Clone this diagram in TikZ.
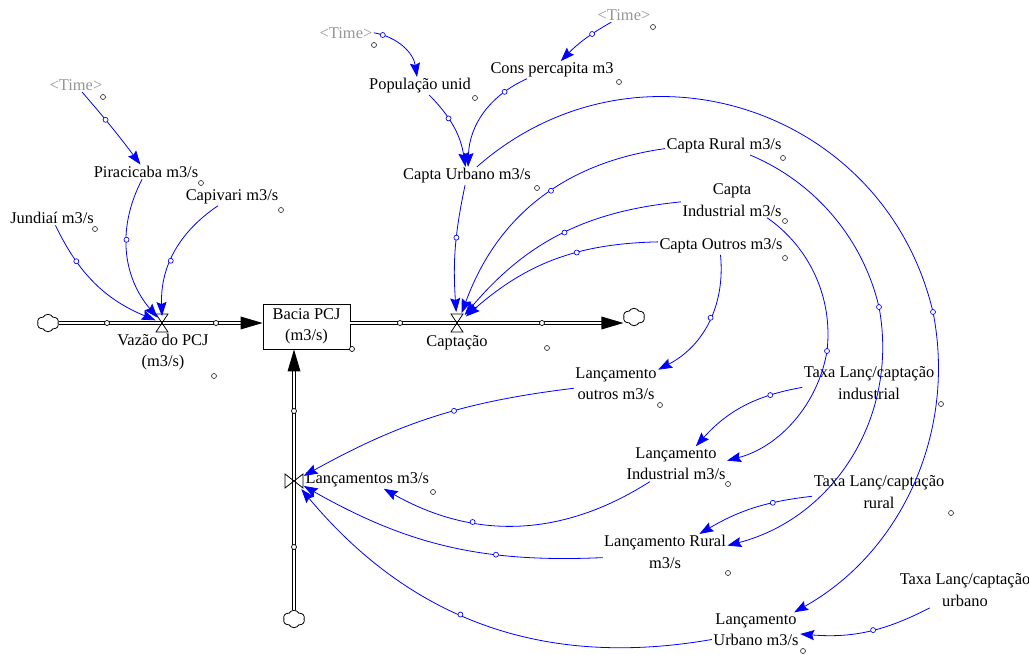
\documentclass[tikz,border=0pt]{standalone}
\usepackage{fontspec}
\setmainfont{Liberation Serif}
\usetikzlibrary{arrows.meta,shapes.geometric,shapes.symbols}
\definecolor{vblue}{RGB}{0,0,255}
\definecolor{tgray}{RGB}{150,150,150}
\begin{document}
\begin{tikzpicture}[x=0.75pt,y=0.75pt,
 var/.style={font=\fontsize{12.3}{16}\selectfont, align=center, inner sep=1pt},
 tvar/.style={var, text=tgray},
 stockbox/.style={var, draw, line width=0.6pt, minimum width=65.25pt, minimum height=33.75pt},
 vnode/.style={circle, inner sep=0pt},
 cloudn/.style={cloud, cloud puffs=6, cloud puff arc=120, aspect=1.25, draw, fill=white, inner sep=0pt, minimum width=16pt, minimum height=13pt, line width=0.6pt},
 pipe/.style={draw, double, double distance=2pt, line width=0.7pt},
 valve/.style={draw, line width=0.6pt},
 link/.style={draw=vblue, line width=0.6pt, -{Stealth[length=10.5pt,width=7.5pt,inset=1.5pt]}},
 hnd/.style={circle, draw=vblue, fill=white, line width=0.5pt, inner sep=0pt, minimum size=3.75pt},
 lh/.style={circle, draw=black!80, fill=white, line width=0.5pt, inner sep=0pt, minimum size=3.75pt},
 ph/.style={circle, draw=black, fill=white, line width=0.5pt, inner sep=0pt, minimum size=3.75pt}
]
\fill[white] (0,0) rectangle (1029,-655);
\useasboundingbox (0,0) rectangle (1029,-655);

% valves, clouds, stock
\node[vnode, minimum size=10pt] (v1) at (162,-323) {};
\node[vnode, minimum size=16pt] (v2) at (457,-323) {};
\node[vnode, minimum size=16pt] (v3) at (294,-481) {};
\node[stockbox] (stock) at (306.5,-326.5) {Bacia PCJ\\(m3/s)};
\node[cloudn] (c1) at (48,-323) {};
\node[cloudn] (c2) at (634,-317) {};
\node[cloudn] (c3) at (294,-619) {};

% pipes
\draw[pipe, shorten >=8pt] (c1.east |- v1) -- (stock.west |- v1);
\fill (stock.west |- v1) -- ++(-22,6.5) -- ++(0,-13) -- cycle;
\draw[pipe, shorten >=8pt] (stock.east |- v2) -- (c2.west |- v2);
\fill (c2.west |- v2) -- ++(-22,6.5) -- ++(0,-13) -- cycle;
\draw[pipe, shorten >=8pt] (c3.north) -- (c3.north |- stock.south);
\fill (c3.north |- stock.south) -- ++(-6.5,-22) -- ++(13,0) -- cycle;

\draw[valve, shift={(v1)}] (-6,9) -- (6,9) -- (-6,-9) -- (6,-9) -- cycle;
\draw[valve, shift={(v2)}] (-6,9) -- (6,9) -- (-6,-9) -- (6,-9) -- cycle;
\draw[valve, shift={(v3)}] (-9,7) -- (-9,-7) -- (9,7) -- (9,-7) -- cycle;

\node[ph] (p1) at (107,-323) {};
\node[ph] (p2) at (216,-323) {};
\node[ph] (p3) at (400,-323) {};
\node[ph] (p4) at (542,-323) {};
\node[ph] (p5) at (294,-411) {};
\node[ph] (p6) at (294,-547) {};
\node[ph] (p7) at (352,-349) {};

% flow labels
\node[var] (vazl) at (163,-352) {Vazão do PCJ\\(m3/s)};
\node[var] (captl) at (457,-343) {Captação};
\node[var, anchor=west] (lancl) at (304,-480) {Lançamentos m3/s};

% variables
\node[tvar] (t1) at (76,-85) {<Time>};
\node[tvar] (t2) at (346,-33) {<Time>};
\node[tvar] (t3) at (624,-15) {<Time>};
\node[var] (pira) at (146,-172) {Piracicaba m3/s};
\node[var] (capi) at (232,-197) {Capivari m3/s};
\node[var] (jund) at (52,-218) {Jundiaí m3/s};
\node[var] (pop) at (420,-86) {População unid};
\node[var] (cons) at (552,-70) {Cons percapita m3};
\node[var] (cu) at (467,-176) {Capta Urbano m3/s};
\node[var] (cr) at (724,-146) {Capta Rural m3/s};
\node[var] (ci) at (732,-200) {Capta\\Industrial m3/s};
\node[var] (co) at (721,-246) {Capta Outros m3/s};
\node[var] (lo) at (616,-384) {Lançamento\\outros m3/s};
\node[var] (ti) at (869,-383) {Taxa Lanç/captação\\industrial};
\node[var] (li) at (676,-464) {Lançamento\\Industrial m3/s};
\node[var] (tr) at (879,-492) {Taxa Lanç/captação\\rural};
\node[var] (lr) at (665,-552) {Lançamento Rural\\m3/s};
\node[var] (tu) at (965,-590) {Taxa Lanç/captação\\urbano};
\node[var] (lu) at (756,-630) {Lançamento\\Urbano m3/s};

% label handles
\foreach \p in {(103,-97),(201,-183),(281,-210),(95,-229),(214,-376),(547,-348),(433,-492),
  (374,-45),(475,-98),(653,-27),(619,-82),(537,-188),(783,-158),(785,-221),(785,-258),
  (660,-405),(941,-404),(728,-484),(951,-513),(728,-573),(803,-651)}
  \node[lh] at \p {};

% links
\draw[link] (t1) to[bend left=2] node[hnd,pos=.38]{} (pira);
\draw[link] (jund) to[bend right=21] node[hnd,pos=.28]{} (v1);
\draw[link] (pira) to[bend right=34] node[hnd,pos=.42]{} (v1);
\draw[link] (capi) to[bend right=29] node[hnd,pos=.57]{} (v1);
\draw[link] (t2) to[bend left=36] node[hnd,pos=.13]{} (pop);
\draw[link] (t3) to[bend right=8] node[hnd,pos=.34]{} (cons);
\draw[link] (pop) to[bend left=18] node[hnd,pos=.36]{} (cu);
\draw[link] (cons) to[bend right=32] node[hnd,pos=.22]{} (cu);
\draw[link] (cu) to[bend right=8] node[hnd,pos=.41]{} (v2);
\draw[link] (cr) to[bend right=31] node[hnd,pos=.44]{} (v2);
\draw[link] (ci) to[bend right=22] node[hnd,pos=.48]{} (v2);
\draw[link] (co) to[bend right=20] node[hnd,pos=.38]{} (v2);
\draw[link] (co) to[bend left=34] node[hnd,pos=.46]{} (lo);
\draw[link] (ti) to[bend right=19] node[hnd,pos=.25]{} (li);
\draw[link] (tr) to[bend right=12] node[hnd,pos=.32]{} (lr);
\draw[link] (tu) to[bend left=16] node[hnd,pos=.45]{} (lu);
\draw[link] (lo) to[bend right=11] node[hnd,pos=.42]{} (v3);
\draw[link] (li) to[bend left=31] node[hnd,pos=.67]{} (lancl);
\draw[link] (lr) to[bend left=16] node[hnd,pos=.33]{} (v3);
\draw[link] (lu) to[bend left=30] node[hnd,pos=.56]{} (v3);

\coordinate (h14) at (879,-307);
\coordinate (h15) at (827,-351);
\coordinate (h20) at (933,-312);
\draw[link] (cr) to[bend left=27, looseness=.9] (h14) to[bend left=43] (lr);
\draw[link] (ci) to[bend left=31, looseness=.92] (h15) to[bend left=33, looseness=.93] (li);
\draw[link] (cu) to[bend left=59, looseness=1.13] (h20) to[bend left=36, looseness=.95] (lu);
\node[hnd] at (h14) {};
\node[hnd] at (h15) {};
\node[hnd] at (h20) {};
\end{tikzpicture}
\end{document}
